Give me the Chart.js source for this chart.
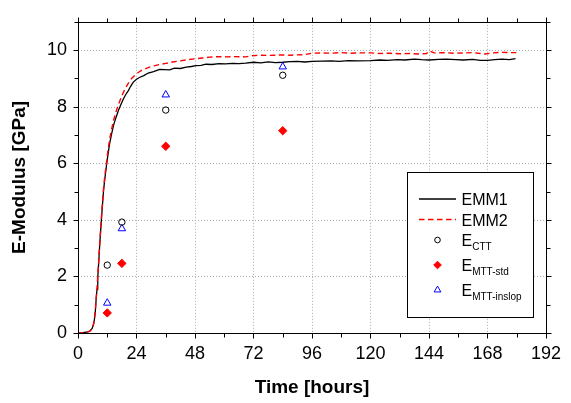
<!DOCTYPE html>
<html>
<head>
<meta charset="utf-8">
<title>E-Modulus</title>
<script src="https://cdn.jsdelivr.net/npm/chart.js@4/dist/chart.umd.min.js"></script>
<style>
  html, body { margin: 0; padding: 0; background: #fff; }
</style>
</head>
<body>
<canvas id="emod" width="571" height="403"></canvas>
<script>
// EMM1 curve (black, solid)
const emm1Hours = [0, 2, 4, 5, 5.8, 6.3, 6.7, 7.1, 7.4, 7.8, 8.1, 8.5, 8.9, 9.3, 9.7, 10.1, 10.5, 11, 11.6, 12.2,
  12.9, 13.7, 14.6, 15.6, 16.6, 17.6, 18.6, 19.6, 20.6, 21.6, 22.7, 24, 25.4, 27, 28.8, 31, 33.5, 35.5, 37.6, 39.6,
  42, 44.4, 46.5, 48.4, 50.5, 52.5, 55, 57.9, 60.5, 63.3, 66, 68.8, 72, 75, 78, 81, 84, 87, 90, 93,
  96, 100, 104, 107, 111, 115, 120, 124, 127, 131, 134, 138, 141, 144, 148, 151, 155, 158, 162, 165,
  168, 171, 174, 177, 179.5];
const emm1Values = [0, 0.01, 0.04, 0.08, 0.16, 0.28, 0.45, 0.75, 1.14, 1.55, 1.94, 2.5, 3.1, 3.62, 4.13, 4.6, 5.05, 5.45, 5.86, 6.25,
  6.66, 7.0, 7.35, 7.62, 7.87, 8.08, 8.27, 8.43, 8.56, 8.72, 8.87, 8.97, 9.04, 9.1, 9.19, 9.24, 9.32, 9.31, 9.3, 9.36,
  9.35, 9.4, 9.42, 9.45, 9.46, 9.5, 9.49, 9.52, 9.51, 9.53, 9.52, 9.54, 9.57, 9.55, 9.58, 9.56, 9.57, 9.59, 9.6, 9.58,
  9.6, 9.61, 9.62, 9.6, 9.63, 9.62, 9.63, 9.65, 9.64, 9.66, 9.65, 9.68, 9.66, 9.65, 9.67, 9.68, 9.66, 9.65, 9.67, 9.64,
  9.64, 9.66, 9.68, 9.66, 9.7];

// EMM2 curve (red, dashed)
const emm2Hours = [0, 2, 4, 5, 5.8, 6.3, 6.7, 7.1, 7.4, 7.8, 8.1, 8.5, 8.9, 9.3, 9.7, 10.1, 10.5, 11, 11.6, 12.2,
  12.9, 13.7, 14.6, 15.6, 16.6, 17.6, 18.6, 19.6, 20.6, 21.6, 22.7, 24, 25.4, 27, 28.8, 31, 33.5, 36, 38.9, 42,
  45, 48, 51, 54, 57.9, 61, 64, 68.8, 71.4, 75, 78, 81, 84, 87, 90, 93, 96, 100, 104, 108,
  112, 116, 120, 124, 128, 132, 136, 140, 143, 144.3, 146, 150, 154, 158, 162, 165, 167, 170, 174, 177,
  179.8];
const emm2Values = [0, 0.01, 0.03, 0.07, 0.15, 0.28, 0.46, 0.78, 1.17, 1.6, 2.0, 2.56, 3.16, 3.7, 4.2, 4.68, 5.13, 5.55, 5.97, 6.38,
  6.8, 7.17, 7.52, 7.82, 8.08, 8.3, 8.5, 8.67, 8.82, 8.96, 9.06, 9.16, 9.25, 9.32, 9.38, 9.44, 9.49, 9.53, 9.58, 9.62,
  9.66, 9.69, 9.72, 9.75, 9.77, 9.76, 9.77, 9.76, 9.8, 9.82, 9.81, 9.82, 9.83, 9.82, 9.83, 9.84, 9.89, 9.9, 9.89, 9.91,
  9.89, 9.9, 9.9, 9.88, 9.89, 9.87, 9.88, 9.86, 9.88, 9.97, 9.9, 9.91, 9.89, 9.9, 9.91, 9.88, 9.86, 9.9, 9.92, 9.91,
  9.91];

// discrete test results
const sampleHours = [12, 18, 36, 84];
const eCTT = [2.40, 3.92, 7.88, 9.11];
const eMTTstd = [0.71, 2.46, 6.6, 7.15];
const eMTTinslop = [1.06, 3.69, 8.42, 9.41];

// axes
const xTickLabels = ['0', '24', '48', '72', '96', '120', '144', '168', '192'];
const yTickLabels = ['0', '2', '4', '6', '8', '10'];

const FONT = "'Liberation Sans', Arial, Helvetica, sans-serif";

const toPoints = (xs, ys) => xs.map((x, i) => ({ x: x, y: ys[i] }));

// dotted grid at major ticks
const gridPlugin = {
  id: 'dottedGrid',
  beforeDatasetsDraw(chart) {
    const { ctx, chartArea: a, scales: { x, y } } = chart;
    ctx.save();
    ctx.strokeStyle = '#ababab';
    ctx.lineWidth = 1;
    ctx.setLineDash([1, 2]);
    x.ticks.forEach(t => {
      const px = Math.round(x.getPixelForValue(t.value)) + 0.5;
      if (px <= a.left + 1 || px >= a.right - 1) return;
      ctx.beginPath(); ctx.moveTo(px, a.top); ctx.lineTo(px, a.bottom); ctx.stroke();
    });
    y.ticks.forEach(t => {
      const py = Math.round(y.getPixelForValue(t.value)) + 0.5;
      if (py <= a.top + 1 || py >= a.bottom - 1) return;
      ctx.beginPath(); ctx.moveTo(a.left, py); ctx.lineTo(a.right, py); ctx.stroke();
    });
    ctx.restore();
  }
};

// frame box with outward ticks on all four sides
const framePlugin = {
  id: 'frame',
  afterDatasetsDraw(chart) {
    const { ctx, chartArea: a, scales: { x, y } } = chart;
    const L = Math.round(a.left) + 0.5, R = Math.round(a.right) + 0.5;
    const T = Math.round(a.top) + 0.5, B = Math.round(a.bottom) + 0.5;
    ctx.save();
    ctx.strokeStyle = '#000';
    ctx.lineWidth = 1;
    ctx.strokeRect(L, T, R - L, B - T);
    ctx.beginPath();
    for (let v = x.min; v <= x.max; v += 12) {
      const px = Math.round(x.getPixelForValue(v)) + 0.5;
      const len = v % 24 === 0 ? 5 : 4;
      ctx.moveTo(px, B); ctx.lineTo(px, B + len);
      ctx.moveTo(px, T); ctx.lineTo(px, T - len);
    }
    for (let v = y.min; v <= y.max; v += 1) {
      const py = Math.round(y.getPixelForValue(v)) + 0.5;
      const len = v % 2 === 0 ? 5 : 4;
      ctx.moveTo(L, py); ctx.lineTo(L - len, py);
      ctx.moveTo(R, py); ctx.lineTo(R + len, py);
    }
    ctx.stroke();
    ctx.restore();
  }
};

// boxed legend with subscripts
const legendPlugin = {
  id: 'boxLegend',
  afterDraw(chart) {
    const ctx = chart.ctx;
    const ds = chart.data.datasets;
    const rows = [
      { d: ds[0], main: 'EMM1', sub: '', y: 199 },
      { d: ds[1], main: 'EMM2', sub: '', y: 219.5 },
      { d: ds[2], main: 'E', sub: 'CTT', y: 240 },
      { d: ds[3], main: 'E', sub: 'MTT-std', y: 265 },
      { d: ds[4], main: 'E', sub: 'MTT-inslop', y: 290 }
    ];
    ctx.save();
    ctx.fillStyle = '#fff';
    ctx.fillRect(407.5, 172.5, 126, 145);
    ctx.strokeStyle = '#000';
    ctx.lineWidth = 1;
    ctx.strokeRect(407.5, 172.5, 126, 145);
    rows.forEach(r => {
      const d = r.d;
      if (d.showLine) {
        ctx.strokeStyle = d.borderColor;
        ctx.lineWidth = d.borderWidth;
        ctx.setLineDash(d.borderDash || []);
        ctx.beginPath(); ctx.moveTo(419, r.y); ctx.lineTo(456, r.y); ctx.stroke();
        ctx.setLineDash([]);
      } else {
        ctx.fillStyle = d.backgroundColor;
        ctx.strokeStyle = d.borderColor;
        ctx.lineWidth = d.borderWidth;
        Chart.helpers.drawPoint(ctx, { pointStyle: d.pointStyle, radius: d.pointRadius - 0.4, borderWidth: d.borderWidth, rotation: 0 }, 437.5, r.y);
      }
      ctx.fillStyle = '#000';
      ctx.textBaseline = 'alphabetic';
      ctx.textAlign = 'left';
      ctx.font = '16px ' + FONT;
      const base = r.y + 6;
      ctx.fillText(r.main, 461.5, base);
      if (r.sub) {
        const w = ctx.measureText(r.main).width;
        ctx.font = '10px ' + FONT;
        ctx.fillText(r.sub, 461.5 + w, base + 4);
      }
    });
    ctx.restore();
  }
};

new Chart(document.getElementById('emod'), {
  type: 'scatter',
  data: {
    datasets: [
      {
        label: 'EMM1',
        data: toPoints(emm1Hours, emm1Values),
        showLine: true,
        borderColor: '#000000',
        borderWidth: 1.3,
        pointRadius: 0,
        tension: 0,
        order: 3
      },
      {
        label: 'EMM2',
        data: toPoints(emm2Hours, emm2Values),
        showLine: true,
        borderColor: '#ff0000',
        borderWidth: 1.4,
        borderDash: [5.5, 3.5],
        pointRadius: 0,
        tension: 0,
        order: 2
      },
      {
        label: 'E_CTT',
        data: toPoints(sampleHours, eCTT),
        showLine: false,
        pointStyle: 'circle',
        pointRadius: 3.2,
        borderWidth: 1,
        borderColor: '#000000',
        backgroundColor: 'rgba(0,0,0,0)',
        order: 1
      },
      {
        label: 'E_MTT-std',
        data: toPoints(sampleHours, eMTTstd),
        showLine: false,
        pointStyle: 'rectRot',
        pointRadius: 4.2,
        borderWidth: 1,
        borderColor: '#ff0000',
        backgroundColor: '#ff0000',
        order: 1
      },
      {
        label: 'E_MTT-inslop',
        data: toPoints(sampleHours, eMTTinslop),
        showLine: false,
        pointStyle: 'triangle',
        pointRadius: 4.3,
        borderWidth: 1,
        borderColor: '#0000ff',
        backgroundColor: 'rgba(0,0,0,0)',
        order: 1
      }
    ]
  },
  options: {
    responsive: false,
    animation: false,
    layout: { padding: { top: 14, right: 21, left: 0, bottom: 0 } },
    plugins: {
      legend: { display: false },
      tooltip: { enabled: false }
    },
    scales: {
      x: {
        type: 'linear',
        min: 0,
        max: 192,
        afterFit: s => { s.height = 70; },
        grid: { display: false, drawTicks: false },
        border: { display: false },
        ticks: {
          stepSize: 24,
          padding: 10,
          maxRotation: 0,
          autoSkip: false,
          color: '#000',
          font: { family: FONT, size: 18 },
          callback: (v, i) => xTickLabels[i]
        },
        title: {
          display: true,
          text: 'Time [hours]',
          color: '#000',
          font: { family: FONT, size: 19, weight: 'bold' },
          padding: { top: 0, bottom: 4 }
        }
      },
      y: {
        type: 'linear',
        min: 0,
        max: 11,
        afterFit: s => { s.width = 78; },
        grid: { display: false, drawTicks: false },
        border: { display: false },
        ticks: {
          stepSize: 2,
          includeBounds: false,
          padding: 11,
          color: '#000',
          font: { family: FONT, size: 18 },
          callback: (v, i) => yTickLabels[i]
        },
        title: {
          display: true,
          text: 'E-Modulus [GPa]',
          color: '#000',
          font: { family: FONT, size: 19, weight: 'bold' },
          padding: { top: 8.6, bottom: 0 }
        }
      }
    }
  },
  plugins: [gridPlugin, framePlugin, legendPlugin]
});
</script>
</body>
</html>
